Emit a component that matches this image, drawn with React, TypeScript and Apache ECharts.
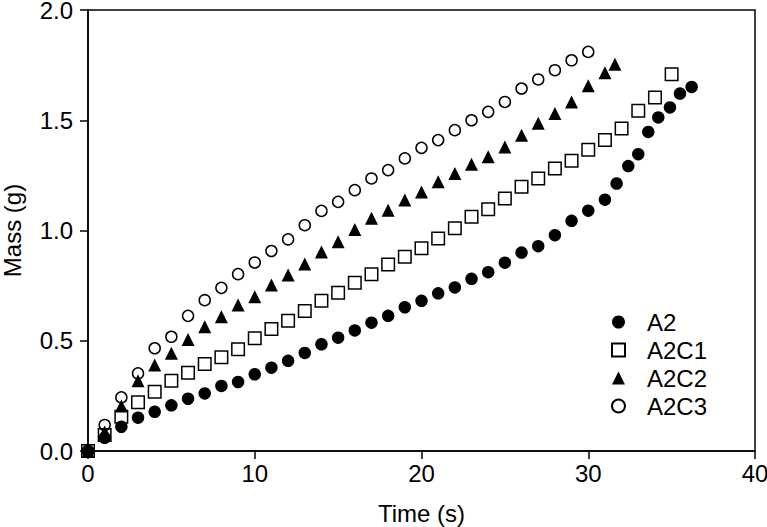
import { useEffect, useRef } from "react";
import * as echarts from "echarts";

const xTicks = [0, 10, 20, 30, 40];
const yTicks = [0, 0.5, 1.0, 1.5, 2.0];

const seriesNames = ["A2", "A2C1", "A2C2", "A2C3"];

const a2Time = [0, 1, 2, 3, 4, 5, 6, 7, 8, 9, 10, 11, 12, 13, 14, 15, 16, 17, 18, 19, 20, 21, 22, 23, 24, 25, 26, 27, 28, 29, 30, 31, 31.7, 32.4, 33.0, 33.6, 34.2, 34.9, 35.5, 36.2];
const a2Mass = [0, 0.06, 0.11, 0.151, 0.178, 0.207, 0.237, 0.261, 0.295, 0.313, 0.348, 0.378, 0.409, 0.445, 0.484, 0.514, 0.547, 0.582, 0.613, 0.652, 0.681, 0.715, 0.742, 0.781, 0.811, 0.854, 0.9, 0.929, 0.979, 1.044, 1.09, 1.14, 1.213, 1.292, 1.346, 1.447, 1.513, 1.558, 1.621, 1.651];

const a2c1Time = [0, 1, 2, 3, 4, 5, 6, 7, 8, 9, 10, 11, 12, 13, 14, 15, 16, 17, 18, 19, 20, 21, 22, 23, 24, 25, 26, 27, 28, 29, 30, 31, 32, 33, 34, 35];
const a2c1Mass = [0, 0.073, 0.155, 0.221, 0.269, 0.319, 0.355, 0.394, 0.425, 0.461, 0.511, 0.553, 0.591, 0.635, 0.681, 0.718, 0.763, 0.802, 0.846, 0.881, 0.92, 0.964, 1.01, 1.062, 1.096, 1.145, 1.198, 1.236, 1.281, 1.316, 1.366, 1.41, 1.463, 1.543, 1.603, 1.709];

const a2c2Time = [0, 1, 2, 3, 4, 5, 6, 7, 8, 9, 10, 11, 12, 13, 14, 15, 16, 17, 18, 19, 20, 21, 22, 23, 24, 25, 26, 27, 28, 29, 30, 31, 31.6];
const a2c2Mass = [0, 0.086, 0.204, 0.319, 0.39, 0.443, 0.506, 0.563, 0.609, 0.662, 0.699, 0.753, 0.798, 0.848, 0.903, 0.949, 1.005, 1.055, 1.092, 1.138, 1.175, 1.221, 1.259, 1.301, 1.334, 1.379, 1.432, 1.486, 1.531, 1.583, 1.657, 1.715, 1.754];

const a2c3Time = [0, 1, 2, 3, 4, 5, 6, 7, 8, 9, 10, 11, 12, 13, 14, 15, 16, 17, 18, 19, 20, 21, 22, 23, 24, 25, 26, 27, 28, 29, 30];
const a2c3Mass = [0, 0.118, 0.243, 0.352, 0.466, 0.518, 0.613, 0.684, 0.74, 0.802, 0.855, 0.907, 0.96, 1.024, 1.089, 1.13, 1.183, 1.236, 1.274, 1.327, 1.375, 1.41, 1.455, 1.5, 1.538, 1.583, 1.644, 1.685, 1.727, 1.772, 1.81];

const zip = (xs: number[], ys: number[]) => xs.map((x, i) => [x, ys[i]]);

const FONT = "'Liberation Sans', Arial, Helvetica, sans-serif";

export default function App() {
  const ref = useRef<HTMLDivElement>(null);
  useEffect(() => {
    if (!ref.current) return;
    const chart = echarts.init(ref.current, null, { renderer: "svg" });
    const filled = { color: "#000", borderColor: "#000", borderWidth: 0, opacity: 1 };
    const open = { color: "rgba(255,255,255,0)", borderColor: "#000", borderWidth: 1.5, opacity: 1 };
    chart.setOption({
      animation: false,
      backgroundColor: "#fff",
      textStyle: { fontFamily: FONT, color: "#000" },
      grid: {
        left: 88,
        right: 12,
        top: 10,
        bottom: 76,
        show: true,
        borderColor: "#000",
        borderWidth: 1.5,
        backgroundColor: "transparent",
        outerBoundsMode: "none",
      },
      xAxis: {
        type: "value",
        min: xTicks[0],
        max: xTicks[xTicks.length - 1],
        interval: 10,
        name: "Time (s)",
        nameLocation: "middle",
        nameGap: 50,
        nameTextStyle: { fontSize: 24, color: "#000", fontFamily: FONT },
        axisLine: { show: true, onZero: false, lineStyle: { color: "#000", width: 1.5 } },
        axisTick: { show: true, inside: false, length: 8, lineStyle: { color: "#000", width: 1.5 } },
        axisLabel: { fontSize: 24, color: "#000", margin: 10, fontFamily: FONT },
        splitLine: { show: false },
      },
      yAxis: {
        type: "value",
        min: yTicks[0],
        max: yTicks[yTicks.length - 1],
        interval: 0.5,
        name: "Mass (g)",
        nameLocation: "middle",
        nameGap: 66,
        nameTextStyle: { fontSize: 24, lineHeight: 20, color: "#000", fontFamily: FONT },
        axisLine: { show: true, onZero: false, lineStyle: { color: "#000", width: 1.5 } },
        axisTick: { show: true, inside: false, length: 8, lineStyle: { color: "#000", width: 1.5 } },
        axisLabel: {
          fontSize: 24,
          lineHeight: 18,
          color: "#000",
          margin: 15,
          fontFamily: FONT,
          formatter: (v: number) => v.toFixed(1),
        },
        splitLine: { show: false },
      },
      legend: {
        orient: "vertical",
        left: 611,
        top: 310,
        padding: 0,
        itemWidth: 13,
        itemHeight: 13,
        itemGap: 4,
        textStyle: {
          fontSize: 24,
          lineHeight: 24,
          color: "#000",
          fontFamily: FONT,
          padding: [0, 0, 0, 17],
        },
        data: seriesNames,
      },
      series: [
        {
          name: seriesNames[0],
          type: "scatter",
          symbol: "circle",
          symbolSize: 12.5,
          itemStyle: filled,
          data: zip(a2Time, a2Mass),
          z: 2,
        },
        {
          name: seriesNames[1],
          type: "scatter",
          symbol: "rect",
          symbolSize: 12.5,
          itemStyle: open,
          data: zip(a2c1Time, a2c1Mass),
          z: 3,
        },
        {
          name: seriesNames[2],
          type: "scatter",
          symbol: "triangle",
          symbolSize: 13,
          itemStyle: filled,
          data: zip(a2c2Time, a2c2Mass),
          z: 4,
        },
        {
          name: seriesNames[3],
          type: "scatter",
          symbol: "circle",
          symbolSize: 11,
          itemStyle: open,
          data: zip(a2c3Time, a2c3Mass),
          z: 1,
        },
      ],
    });
    return () => chart.dispose();
  }, []);
  return (
    <div
      ref={ref}
      style={{ position: "fixed", left: 0, top: 0, width: 767, height: 527 }}
    />
  );
}
